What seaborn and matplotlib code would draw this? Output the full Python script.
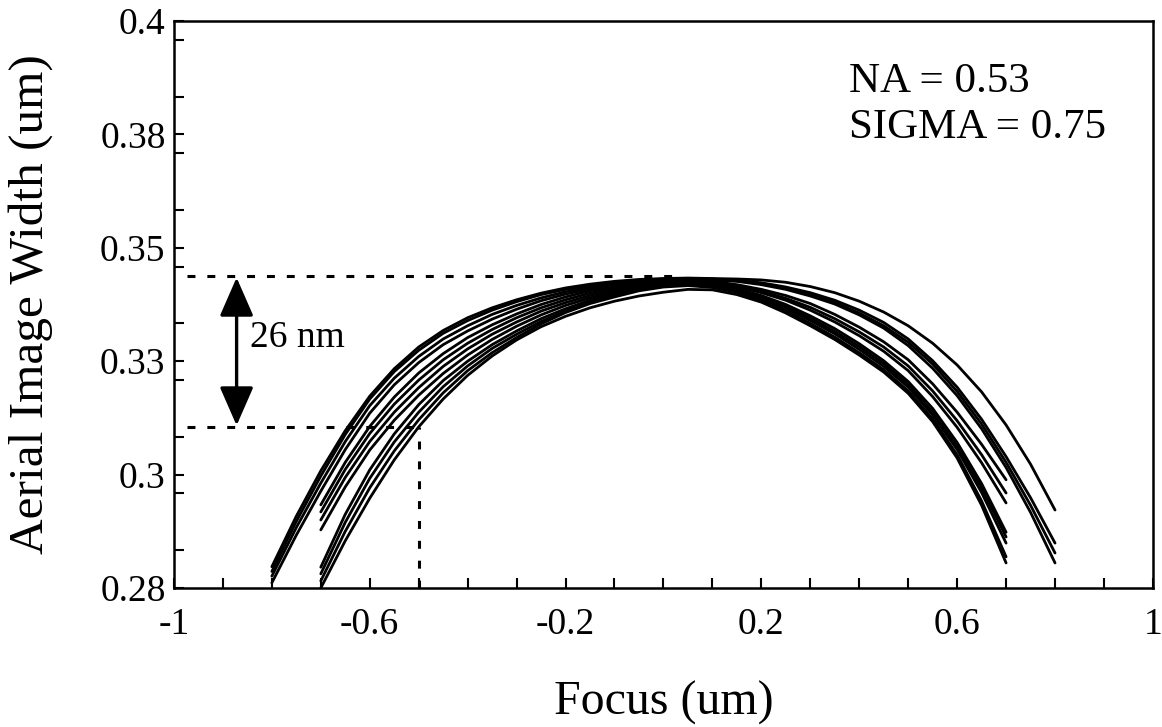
import matplotlib
matplotlib.use("Agg")
import matplotlib.pyplot as plt
import seaborn as sns
import pandas as pd
from matplotlib.ticker import FixedLocator, MultipleLocator

# ---------------- data ----------------
# wide curves run from -0.8 to 0.8, narrow curves from -0.7 to 0.7
focus_wide = [-0.80, -0.75, -0.70, -0.65, -0.60, -0.55, -0.50, -0.45, -0.40, -0.35, -0.30,
              -0.25, -0.20, -0.15, -0.10, -0.05, 0.00, 0.05, 0.10, 0.15, 0.20, 0.25,
              0.30, 0.35, 0.40, 0.45, 0.50, 0.55, 0.60, 0.65, 0.70, 0.75, 0.80]
focus_narrow = [-0.70, -0.65, -0.60, -0.55, -0.50, -0.45, -0.40, -0.35, -0.30, -0.25,
                -0.20, -0.15, -0.10, -0.05, 0.00, 0.05, 0.10, 0.15, 0.20, 0.25,
                0.30, 0.35, 0.40, 0.45, 0.50, 0.55, 0.60, 0.65, 0.70]

width_w1 = [.2845, .2952, .3048, .3133, .3206, .3264, .3310, .3345, .3372, .3393, .3410,
            .3424, .3435, .3443, .3449, .3453, .3455, .3456, .3455, .3454, .3452, .3447,
            .3438, .3425, .3407, .3384, .3355, .3318, .3272, .3215, .3145, .3062, .2965]
width_w2 = [.2835, .2941, .3037, .3125, .3200, .3258, .3303, .3339, .3366, .3388, .3406,
            .3421, .3432, .3441, .3447, .3451, .3454, .3455, .3454, .3451, .3446, .3437,
            .3425, .3409, .3388, .3362, .3327, .3281, .3225, .3157, .3078, .2991, .2895]
width_w3 = [.2825, .2928, .3022, .3110, .3186, .3244, .3290, .3327, .3355, .3379, .3398,
            .3414, .3427, .3437, .3444, .3450, .3453, .3454, .3453, .3450, .3444, .3434,
            .3421, .3404, .3382, .3355, .3320, .3274, .3216, .3147, .3066, .2975, .2874]
width_w4 = [.2811, .2912, .3005, .3093, .3170, .3230, .3277, .3315, .3344, .3369, .3390,
            .3408, .3422, .3433, .3441, .3447, .3451, .3453, .3452, .3449, .3442, .3432,
            .3418, .3401, .3378, .3350, .3313, .3265, .3207, .3137, .3055, .2960, .2853]

width_n1 = [.2976, .3066, .3142, .3204, .3255, .3296, .3330, .3357, .3380, .3400, .3416,
            .3429, .3438, .3445, .3450, .3451, .3449, .3442, .3432, .3419, .3402, .3379,
            .3352, .3321, .3283, .3232, .3172, .3104, .3029]
width_n2 = [.2961, .3051, .3127, .3189, .3240, .3283, .3318, .3347, .3372, .3393, .3410,
            .3424, .3435, .3443, .3448, .3450, .3447, .3439, .3428, .3413, .3394, .3370,
            .3342, .3310, .3270, .3217, .3154, .3082, .3001]
width_n3 = [.2944, .3034, .3110, .3172, .3224, .3269, .3306, .3337, .3363, .3386, .3404,
            .3419, .3431, .3440, .3446, .3448, .3446, .3438, .3425, .3409, .3388, .3363,
            .3334, .3301, .3260, .3205, .3140, .3065, .2980]
width_n4 = [.2923, .3014, .3092, .3155, .3208, .3254, .3293, .3326, .3354, .3378, .3398,
            .3414, .3427, .3437, .3444, .3446, .3443, .3434, .3419, .3400, .3376, .3349,
            .3317, .3281, .3237, .3180, .3108, .3021, .2918]
width_n5 = [.2844, .2956, .3050, .3126, .3188, .3239, .3280, .3315, .3344, .3370, .3391,
            .3409, .3423, .3435, .3442, .3444, .3441, .3431, .3416, .3396, .3371, .3343,
            .3311, .3275, .3231, .3172, .3100, .3012, .2908]
width_n6 = [.2830, .2939, .3032, .3109, .3172, .3226, .3270, .3307, .3337, .3364, .3386,
            .3405, .3420, .3432, .3440, .3443, .3439, .3429, .3413, .3392, .3366, .3338,
            .3305, .3269, .3225, .3166, .3093, .3002, .2895]
width_n7 = [.2815, .2920, .3012, .3090, .3156, .3213, .3260, .3298, .3330, .3359, .3383,
            .3402, .3416, .3429, .3437, .3440, .3436, .3426, .3409, .3387, .3360, .3331,
            .3298, .3262, .3217, .3158, .3082, .2984, .2866]
width_n8 = [.2800, .2900, .2990, .3071, .3141, .3200, .3250, .3291, .3325, .3353, .3375,
            .3393, .3407, .3418, .3426, .3432, .3431, .3421, .3405, .3382, .3355, .3326,
            .3293, .3257, .3212, .3152, .3075, .2975, .2853]

x_major = [-1, -0.6, -0.2, 0.2, 0.6, 1]
x_labels = ["-1", "-0.6", "-0.2", "0.2", "0.6", "1"]
y_major = [0.28, 0.304, 0.328, 0.352, 0.376, 0.40]
y_labels = ["0.28", "0.3", "0.33", "0.35", "0.38", "0.4"]

upper_level = 0.3460
lower_level = 0.3141
lower_focus = -0.5
upper_end = 0.02
arrow_focus = -0.872

# ---------------- build table ----------------
series = [
    ("w1", focus_wide, width_w1), ("w2", focus_wide, width_w2),
    ("w3", focus_wide, width_w3), ("w4", focus_wide, width_w4),
    ("n1", focus_narrow, width_n1), ("n2", focus_narrow, width_n2),
    ("n3", focus_narrow, width_n3), ("n4", focus_narrow, width_n4),
    ("n5", focus_narrow, width_n5), ("n6", focus_narrow, width_n6),
    ("n7", focus_narrow, width_n7), ("n8", focus_narrow, width_n8),
]
rows = []
for name, xs, ys in series:
    for xv, yv in zip(xs, ys):
        rows.append({"curve": name, "focus": xv, "width": yv})
df = pd.DataFrame(rows)

# ---------------- style ----------------
sns.set_theme(style="white")
plt.rcParams["font.family"] = ["Liberation Serif", "DejaVu Serif"]
plt.rcParams["text.color"] = "black"
plt.rcParams["axes.labelcolor"] = "black"
plt.rcParams["xtick.color"] = "black"
plt.rcParams["ytick.color"] = "black"

fig = plt.figure(figsize=(11.62, 7.27), dpi=100)
ax = fig.add_axes([0.1497, 0.1912, 0.8425, 0.7799])

sns.lineplot(data=df, x="focus", y="width", units="curve", estimator=None,
             color="black", lw=2.0, ax=ax, legend=False, sort=False)

ax.set_xlim(-1, 1)
ax.set_ylim(0.28, 0.40)

ax.xaxis.set_major_locator(FixedLocator(x_major))
ax.set_xticklabels(x_labels)
ax.xaxis.set_minor_locator(MultipleLocator(0.1))
ax.yaxis.set_major_locator(FixedLocator(y_major))
ax.set_yticklabels(y_labels)
ax.yaxis.set_minor_locator(MultipleLocator(0.012))

ax.tick_params(axis="both", which="both", direction="in", length=7, width=1.5,
               top=False, right=False, bottom=True, left=True, colors="black")
ax.tick_params(axis="x", which="major", labelsize=27, pad=14)
ax.tick_params(axis="y", which="major", labelsize=27, pad=6)

for sp in ax.spines.values():
    sp.set_visible(True)
    sp.set_color("black")
    sp.set_linewidth(1.8)

ax.set_xlabel("Focus (um)", fontsize=34.5)
ax.set_ylabel("Aerial Image Width (um)", fontsize=35.5)
ax.xaxis.set_label_coords(0.5, -0.163)
ax.yaxis.set_label_coords(-0.124, 0.5)

# dashed guide lines
dash_kw = dict(color="black", lw=2.2, dashes=(2.6, 3.9), solid_capstyle="butt")
ax.plot([-0.973, upper_end], [upper_level, upper_level], **dash_kw)
ax.plot([-0.973, lower_focus], [lower_level, lower_level], **dash_kw)
ax.plot([lower_focus, lower_focus], [0.28, lower_level], **dash_kw)

# double arrow
ax.annotate("", xy=(arrow_focus, upper_level - 0.0003), xytext=(arrow_focus, lower_level + 0.0003),
            arrowprops=dict(arrowstyle="<|-|>,head_length=1.6,head_width=0.7",
                            mutation_scale=15, lw=2.4, color="black",
                            shrinkA=0, shrinkB=0))

ax.text(-0.845, 0.331, "26 nm", fontsize=27, ha="left", va="baseline")
ax.text(0.379, 0.385, "NA = 0.53", fontsize=31, ha="left", va="baseline")
ax.text(0.379, 0.3752, "SIGMA = 0.75", fontsize=31, ha="left", va="baseline")

fig.savefig("out.png", dpi=100, facecolor="white")
